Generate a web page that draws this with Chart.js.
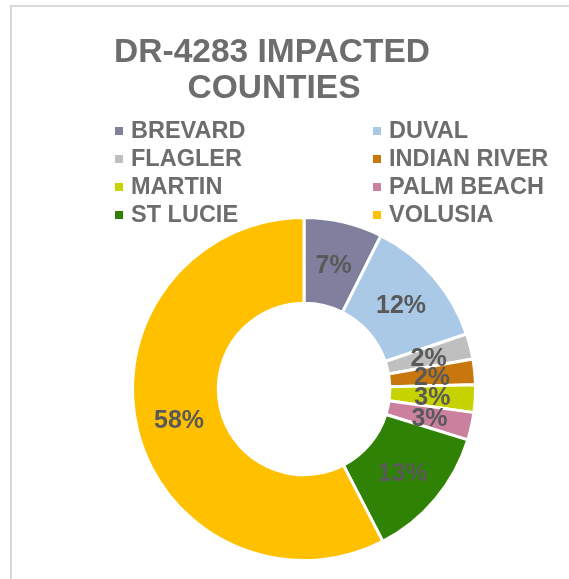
<!DOCTYPE html>
<html>
<head>
<meta charset="utf-8">
<script src="https://cdn.jsdelivr.net/npm/chart.js@4.4.1/dist/chart.umd.min.js"></script>
<style>
  html, body { margin: 0; padding: 0; background: #fff; }
  #wrap { position: relative; width: 569px; height: 579px; overflow: hidden; }
  #frame { position: absolute; left: 10px; top: 5px; width: 600px; height: 600px;
           border-left: 2px solid #d9d9d9; border-top: 2px solid #d9d9d9; }
</style>
</head>
<body>
<div id="wrap">
  <div id="frame"></div>
  <canvas id="countyChart"></canvas>
</div>
<script>
// --- DATA ---
const counties = ['BREVARD', 'DUVAL', 'FLAGLER', 'INDIAN RIVER', 'MARTIN', 'PALM BEACH', 'ST LUCIE', 'VOLUSIA'];
const shares = [7.4, 12.4, 2.4, 2.4, 2.6, 2.6, 12.6, 57.6];
const sliceColors = ['#807f9e', '#a9c9e7', '#bfbfbf', '#c8770e', '#c6d300', '#cb809d', '#2f8204', '#ffc000'];
const titleLines = ['DR-4283 IMPACTED', 'COUNTIES'];

const FONT = '"Liberation Sans", Arial, sans-serif';

// title + two column legend, drawn on the canvas
const headerPlugin = {
  id: 'header',
  afterDraw(chart) {
    const ctx = chart.ctx;
    ctx.save();
    ctx.fillStyle = '#6d6d6d';
    ctx.font = 'bold 33.5px ' + FONT;
    ctx.textAlign = 'center';
    ctx.textBaseline = 'middle';
    ctx.fillText(titleLines[0], 272, 53);
    ctx.fillText(titleLines[1], 274, 89);

    ctx.font = 'bold 23.5px ' + FONT;
    ctx.textAlign = 'left';
    chart.data.labels.forEach((label, i) => {
      const col = i % 2, row = Math.floor(i / 2);
      const x = col === 0 ? 115 : 373;
      const y = 131 + row * 28;
      ctx.fillStyle = chart.data.datasets[0].backgroundColor[i];
      ctx.fillRect(x, y - 4, 8, 8);
      ctx.fillStyle = '#6d6d6d';
      ctx.fillText(label, x + 16, y + 1);
    });
    ctx.restore();
  }
};

// percentage labels in the middle of each ring segment
const sliceLabels = {
  id: 'sliceLabels',
  afterDatasetsDraw(chart) {
    const ctx = chart.ctx;
    const meta = chart.getDatasetMeta(0);
    const data = chart.data.datasets[0].data;
    const total = data.reduce((a, b) => a + b, 0);
    ctx.save();
    ctx.font = 'bold 25px ' + FONT;
    ctx.fillStyle = '#595959';
    ctx.textAlign = 'center';
    ctx.textBaseline = 'middle';
    meta.data.forEach((arc, i) => {
      const p = arc.getCenterPoint();
      ctx.fillText(Math.round(data[i] / total * 100) + '%', p.x, p.y + 2);
    });
    ctx.restore();
  }
};

new Chart(document.getElementById('countyChart'), {
  type: 'doughnut',
  data: {
    labels: counties,
    datasets: [{
      data: shares,
      backgroundColor: sliceColors,
      borderColor: '#ffffff',
      borderWidth: 3
    }]
  },
  options: {
    responsive: true,
    maintainAspectRatio: false,
    animation: false,
    cutout: '50%',
    layout: { padding: { top: 216, bottom: 17, left: 131, right: 92 } },
    plugins: {
      legend: { display: false },
      title: { display: false },
      tooltip: { enabled: false }
    }
  },
  plugins: [headerPlugin, sliceLabels]
});
</script>
</body>
</html>
